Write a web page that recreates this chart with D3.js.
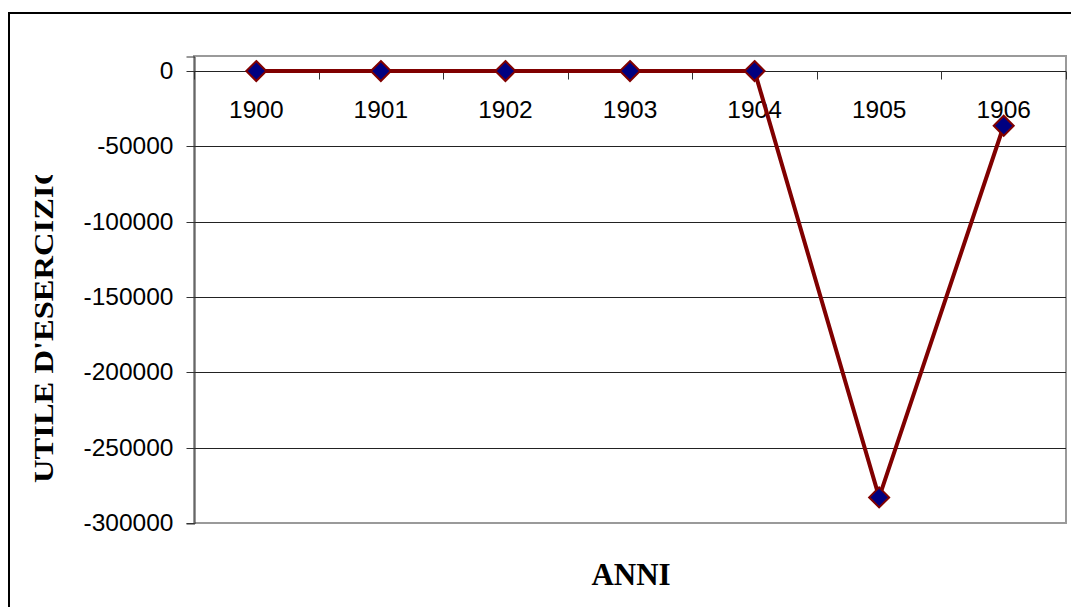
<!DOCTYPE html>
<html><head><meta charset="utf-8">
<script src="https://cdn.jsdelivr.net/npm/d3@7"></script>
<style>body{margin:0;background:#fff}svg{display:block}</style>
</head><body>
<script>
const years = ["1900","1901","1902","1903","1904","1905","1906"];
const utile = [0, 0, 0, 0, 0, -283000, -36300];
const yTicks = [0, -50000, -100000, -150000, -200000, -250000, -300000];

const W = 1071, H = 607;
const svg = d3.select("body").append("svg").attr("width", W).attr("height", H);
const L = 194, R = 1066, T = 56, B = 523;

// outer frame
svg.append("rect").attr("x", 9).attr("y", 13).attr("width", 1100).attr("height", 700)
  .attr("fill", "none").attr("stroke", "#000").attr("stroke-width", 2);

const x = d3.scaleBand().domain(years).range([L, R]).padding(0);
const y = d3.scaleLinear().domain([-300000, 10000]).range([B, T]);

// plot area border
svg.append("rect").attr("x", L).attr("y", T).attr("width", R - L).attr("height", B - T)
  .attr("fill", "#fff").attr("stroke", "#9a9a9a").attr("stroke-width", 2);

// gridlines
svg.append("g").selectAll("line").data(yTicks.filter(d => d !== 0 && d !== -300000)).join("line")
  .attr("x1", L).attr("x2", R).attr("y1", d => Math.round(y(d)) + 0.5).attr("y2", d => Math.round(y(d)) + 0.5)
  .attr("stroke", "#222").attr("stroke-width", 1);

// y axis
const yAxis = d3.axisLeft(y).tickValues(yTicks).tickSize(8).tickPadding(13).tickFormat(d => String(d));
const gy = svg.append("g").attr("transform", `translate(${L + 0.5},0.5)`).call(yAxis);
gy.select(".domain").attr("stroke", "#333");
gy.selectAll(".tick line").attr("stroke", "#333");
gy.selectAll("text").attr("font-family", "'Liberation Sans', Arial, sans-serif").attr("font-size", 24.5).attr("fill", "#000");
gy.selectAll(".tick").attr("transform", d => `translate(0,${Math.round(y(d))})`);

// x axis at zero
const xAxis = d3.axisBottom(x).tickSize(0).tickPadding(0);
const gx = svg.append("g").attr("transform", `translate(0,${Math.round(y(0)) + 0.5})`).call(xAxis);
gx.select(".domain").attr("stroke", "#222").attr("d", `M${L},0H${R}`);
gx.selectAll("text").attr("font-family", "'Liberation Sans', Arial, sans-serif").attr("font-size", 24.5)
  .attr("fill", "#000").attr("dy", 0).attr("y", 46);
// boundary ticks
const bounds = years.map(d => x(d)).concat([R]);
gx.append("g").selectAll("line").data(bounds).join("line")
  .attr("x1", d => Math.round(d) + 0.5).attr("x2", d => Math.round(d) + 0.5)
  .attr("y1", 0).attr("y2", 8).attr("stroke", "#333");

// line
const cx = d => x(d) + x.bandwidth() / 2;
svg.append("path").datum(years.map((d, i) => [cx(d), y(utile[i])]))
  .attr("d", d3.line()).attr("fill", "none").attr("stroke", "#800000").attr("stroke-width", 4);

// markers
svg.append("g").selectAll("path").data(years).join("path")
  .attr("transform", (d, i) => `translate(${cx(d)},${y(utile[i])})`)
  .attr("d", "M0,-10L10,0L0,10L-10,0Z")
  .attr("fill", "#000080").attr("stroke", "#800000").attr("stroke-width", 2);

// y title (clipped at top)
svg.append("clipPath").attr("id", "yc").append("rect").attr("x", 0).attr("y", 175).attr("width", 100).attr("height", 400);
svg.append("g").attr("clip-path", "url(#yc)").append("text")
  .attr("transform", "translate(53,483) rotate(-90)")
  .attr("font-family", "'Liberation Serif', 'Times New Roman', serif").attr("font-weight", "bold").attr("font-size", 27)
  .attr("textLength", 323).attr("lengthAdjust", "spacingAndGlyphs")
  .text("UTILE D'ESERCIZIO");

// x title
svg.append("text").attr("x", 631).attr("y", 585).attr("text-anchor", "middle")
  .attr("font-family", "'Liberation Serif', 'Times New Roman', serif").attr("font-weight", "bold").attr("font-size", 31)
  .text("ANNI");
</script>
</body></html>
